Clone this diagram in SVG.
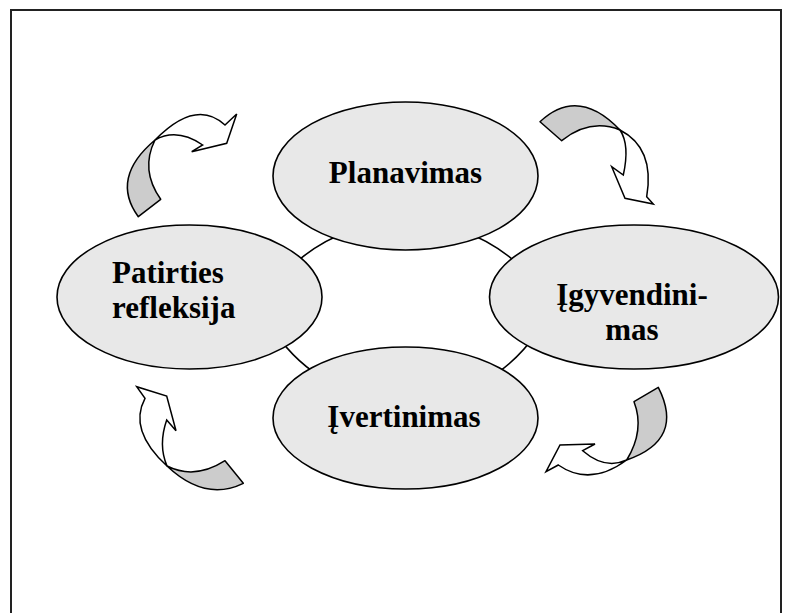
<svg xmlns="http://www.w3.org/2000/svg" width="794" height="613" viewBox="0 0 794 613">
<style>
.node{fill:#e8e8e8;stroke:#000;stroke-width:1.6}
.lbl{font-family:"Liberation Serif","Times New Roman",serif;font-weight:bold;font-size:31px;fill:#000}
.conn{fill:none;stroke:#000;stroke-width:1.6}
.back{fill:#cccccc;stroke:#000;stroke-width:1.5;stroke-linejoin:round}
.front{fill:#ffffff;stroke:#000;stroke-width:1.5;stroke-linejoin:miter}
</style>
<rect x="0" y="0" width="794" height="613" fill="#fff"/>
<rect x="11" y="10" width="770" height="640" fill="none" stroke="#222" stroke-width="2"/>
<g id="connectors">
<path class="conn" d="M290,267.9 A167,167 0 0 1 350,230.7"/>
<path class="conn" d="M462,230.7 A167,167 0 0 1 522,267.9"/>
<path class="conn" d="M537,332.3 A158,158 0 0 1 482,382.5"/>
<path class="conn" d="M330,382.5 A158,158 0 0 1 275,332.3"/>
</g>
<g id="cycle-arrows">
<g id="arrow-tl">
<path class="back" d="M138.3,216.7 Q110,178 155,140 Q140,170 160.7,199.3 Z"/>
<path class="front" d="M155,140 Q196,98 225,125 L236.7,114 L226.7,143.3 L191.7,151.7 L202.7,145 Q177,127.5 155,140 Z"/>
</g>
<g id="arrow-tr">
<path class="back" d="M540,121.7 Q578,86 620,130 Q590,118 561.7,140.7 Z"/>
<path class="front" d="M620,130 Q655,148 646.7,196.7 L653.3,204 L625,198.3 L611.7,166.7 L623.3,175 Q630,145 620,130 Z"/>
</g>
<g id="arrow-br">
<path class="back" d="M658.3,387.3 Q685,440 626.7,460 Q645,430 634,401.7 Z"/>
<path class="front" d="M626.7,460 Q590,487 558.3,465 L546,471.7 L560,445 L595,444 L582.7,450.7 Q605,470 626.7,460 Z"/>
</g>
<g id="arrow-bl">
<path class="back" d="M167,466 Q205,502 243.3,483.3 L225,460.7 Q195,480 167,466 Z"/>
<path class="front" d="M167,466 Q128,430 145,398.3 L136.7,386.7 L166.7,396 L176,430.7 L166.7,420 Q158,445 167,466 Z"/>
</g>
</g>
<g id="planavimas">
<ellipse class="node" cx="405.5" cy="176" rx="132.5" ry="74"/>
<text class="lbl" x="405.5" y="183.3" text-anchor="middle">Planavimas</text>
</g>
<g id="igyvendinimas">
<ellipse class="node" cx="634" cy="297" rx="144.5" ry="72"/>
<text class="lbl" x="632" y="305" text-anchor="middle">Įgyvendini-</text>
<text class="lbl" x="632" y="340" text-anchor="middle">mas</text>
</g>
<g id="ivertinimas">
<ellipse class="node" cx="405.5" cy="418" rx="132.5" ry="71"/>
<text class="lbl" x="404" y="426.7" text-anchor="middle">Įvertinimas</text>
</g>
<g id="patirties-refleksija">
<ellipse class="node" cx="189.5" cy="297" rx="132.5" ry="72"/>
<text class="lbl" x="112" y="283.3">Patirties</text>
<text class="lbl" x="112" y="318.3">refleksija</text>
</g>
</svg>
